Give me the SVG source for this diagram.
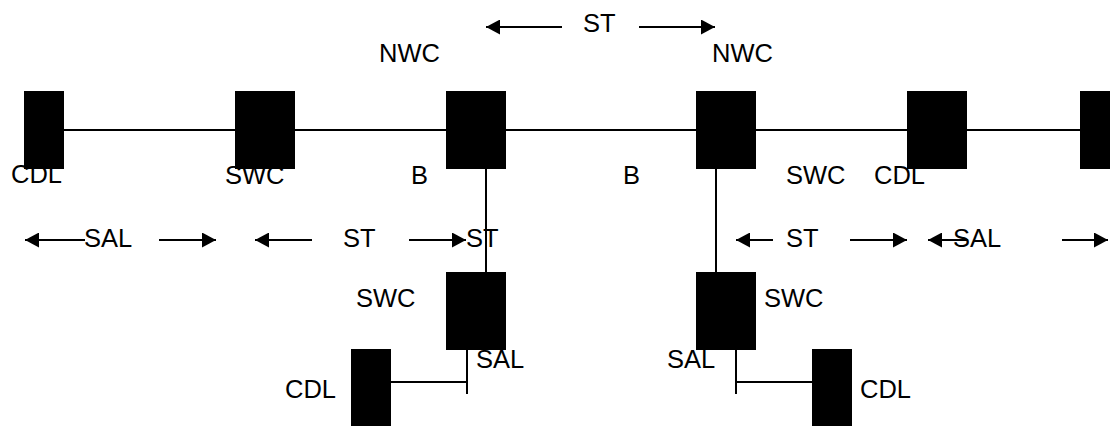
<svg xmlns="http://www.w3.org/2000/svg" width="1110" height="426" viewBox="0 0 1110 426">
  <style>
    .blk { fill: #000; }
    .wire { stroke: #000; stroke-width: 2; fill: none; }
    .dim { stroke: #000; stroke-width: 2; fill: none; marker-end: url(#head); }
    text { font-family: "Liberation Sans", Arial, sans-serif; font-size: 25.5px; fill: #000; }
  </style>
  <defs>
    <marker id="head" markerUnits="userSpaceOnUse" markerWidth="15" markerHeight="15" refX="14" refY="7.5" orient="auto">
      <path d="M0,0 L14,7.5 L0,15 Z" fill="#000"/>
    </marker>
  </defs>
  <rect width="1110" height="426" fill="#fff"/>

  <!-- connectors -->
  <g id="connectors">
    <line class="wire" x1="64" y1="130" x2="1080" y2="130"/>
    <line class="wire" x1="486" y1="169" x2="486" y2="272"/>
    <line class="wire" x1="716" y1="169" x2="716" y2="272"/>
    <line class="wire" x1="467" y1="350" x2="467" y2="394"/>
    <line class="wire" x1="391" y1="382" x2="467" y2="382"/>
    <line class="wire" x1="736" y1="350" x2="736" y2="394"/>
    <line class="wire" x1="736" y1="382" x2="812" y2="382"/>
  </g>

  <!-- span arrows -->
  <g id="spans">
    <line class="dim" x1="562" y1="27" x2="486" y2="27"/>
    <line class="dim" x1="639" y1="27" x2="715" y2="27"/>
    <line class="dim" x1="85" y1="240" x2="25" y2="240"/>
    <line class="dim" x1="159" y1="240" x2="216" y2="240"/>
    <line class="dim" x1="312" y1="240" x2="255" y2="240"/>
    <line class="dim" x1="409" y1="240" x2="466" y2="240"/>
    <line class="dim" x1="773" y1="240" x2="736" y2="240"/>
    <line class="dim" x1="850" y1="240" x2="907" y2="240"/>
    <line class="dim" x1="968" y1="240" x2="928" y2="240"/>
    <line class="dim" x1="1062" y1="240" x2="1108" y2="240"/>
  </g>

  <!-- nodes -->
  <g id="cdl-1"><rect class="blk" x="24" y="91" width="40" height="78"/><text x="11" y="183">CDL</text></g>
  <g id="swc-1"><rect class="blk" x="235" y="91" width="60" height="78"/><text x="225" y="184">SWC</text></g>
  <g id="nwc-1"><rect class="blk" x="446" y="91" width="60" height="78"/><text x="379" y="62">NWC</text></g>
  <g id="nwc-2"><rect class="blk" x="696" y="91" width="60" height="78"/><text x="712" y="62">NWC</text></g>
  <g id="swc-2"><rect class="blk" x="907" y="91" width="60" height="78"/></g>
  <g id="cdl-2"><rect class="blk" x="1080" y="91" width="40" height="78"/></g>
  <g id="swc-3"><rect class="blk" x="446" y="272" width="60" height="78"/><text x="356" y="307">SWC</text></g>
  <g id="swc-4"><rect class="blk" x="696" y="272" width="60" height="78"/><text x="764" y="307">SWC</text></g>
  <g id="cdl-3"><rect class="blk" x="351" y="349" width="40" height="78"/><text x="285" y="398">CDL</text></g>
  <g id="cdl-4"><rect class="blk" x="812" y="349" width="40" height="78"/><text x="860" y="398">CDL</text></g>

  <!-- labels -->
  <g id="labels">
    <text x="583" y="32">ST</text>
    <text x="411" y="184">B</text>
    <text x="623" y="184">B</text>
    <text x="786" y="184">SWC</text>
    <text x="874" y="184">CDL</text>
    <text x="84" y="247">SAL</text>
    <text x="343" y="247">ST</text>
    <text x="466" y="247">ST</text>
    <text x="786" y="247">ST</text>
    <text x="953" y="247">SAL</text>
    <text x="476" y="368">SAL</text>
    <text x="667" y="368">SAL</text>
  </g>
</svg>
